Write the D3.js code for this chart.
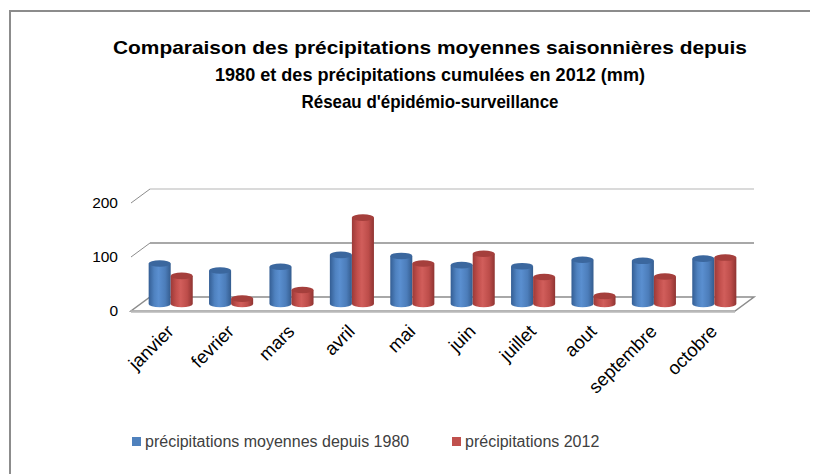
<!DOCTYPE html>
<html>
<head>
<meta charset="utf-8">
<script src="https://cdn.jsdelivr.net/npm/d3@7"></script>
<style>
  body { margin: 0; background: #fff; }
  svg { display: block; }
  text { font-family: "Liberation Sans", Arial, sans-serif; }
</style>
</head>
<body>
<svg width="813" height="474"></svg>
<script>
var months = ["janvier", "fevrier", "mars", "avril", "mai", "juin", "juillet", "aout", "septembre", "octobre"];
var moyenne1980 = [75, 62, 69, 91, 89, 72, 70, 82, 80, 84];
var precip2012 = [52, 10, 26, 160, 75, 93, 50, 15, 51, 86];
var seriesNames = ["précipitations moyennes depuis 1980", "précipitations 2012"];
var yTicks = [0, 100, 200];
var titleLines = [
    "Comparaison des précipitations moyennes saisonnières depuis",
    "1980 et des précipitations cumulées en 2012 (mm)",
    "Réseau d'épidémio-surveillance"
];

var svg = d3.select("svg");

// 3d box: front floor edge and depth offset
var floorL = 131, floorR = 735, floorY = 311,
    depthX = 19, depthY = -14;

var x = d3.scaleBand().domain(months).range([floorL, floorR]);
var x1 = d3.scaleBand().domain([0, 1]).range([0, x.bandwidth()]).paddingOuter(0.37);
var y = d3.scaleLinear().domain([0, 200]).range([floorY, floorY - 108]);

var colors = [
    {top: "#3b679e", stops: ["#345e94", "#4f82c0", "#5a8fd0", "#4c7dba", "#345c8e"]},
    {top: "#a53f3c", stops: ["#9c3a38", "#c24f4c", "#d15e5b", "#bd4d4a", "#8f3432"]}
];

var defs = svg.append("defs");
colors.forEach(function (c, i) {
    var grad = defs.append("linearGradient")
        .attr("id", "cyl" + i)
        .attr("x1", 0).attr("x2", 1).attr("y1", 0).attr("y2", 0);
    [0, 0.25, 0.45, 0.75, 1].forEach(function (o, k) {
        grad.append("stop").attr("offset", o).attr("stop-color", c.stops[k]);
    });
});

// outer frame
svg.append("path")
    .attr("d", "M10,474 L10,11 L810,11")
    .attr("fill", "none")
    .attr("stroke", "#8c8c8c")
    .attr("stroke-width", 2);

// title, fitted to the widths of the original
var titleWidths = [634, 430, 257];
svg.append("g").selectAll("text")
    .data(titleLines)
    .enter().append("text")
    .attr("x", 430)
    .attr("y", (d, i) => 54 + i * 27)
    .attr("text-anchor", "middle")
    .attr("font-size", 19)
    .attr("font-weight", "bold")
    .attr("fill", "#000")
    .attr("textLength", (d, i) => titleWidths[i])
    .attr("lengthAdjust", "spacingAndGlyphs")
    .text(d => d);

// floor
var floor = svg.append("g");
floor.append("path")
    .attr("d", "M" + floorL + "," + floorY + " L" + floorR + "," + floorY +
        " L" + (floorR + depthX) + "," + (floorY + depthY) +
        " L" + (floorL + depthX) + "," + (floorY + depthY) + " Z")
    .attr("fill", "#fff")
    .attr("stroke", "#8c8c8c")
    .attr("stroke-width", 1.5);
floor.append("line")
    .attr("x1", floorL).attr("x2", floorR)
    .attr("y1", floorY + 0.5).attr("y2", floorY + 0.5)
    .attr("stroke", "#b8b8b8")
    .attr("stroke-width", 2.5);

// back wall gridlines
var grid = svg.append("g");
yTicks.filter(t => t > 0).forEach(function (t) {
    grid.append("line")
        .attr("x1", floorL + depthX).attr("x2", floorR + depthX)
        .attr("y1", y(t) + depthY).attr("y2", y(t) + depthY)
        .attr("stroke", t === 200 ? "#dadada" : "#a8a8a8")
        .attr("stroke-width", 2);
    grid.append("line")
        .attr("x1", floorL).attr("x2", floorL + depthX)
        .attr("y1", y(t)).attr("y2", y(t) + depthY)
        .attr("stroke", "#8c8c8c")
        .attr("stroke-width", 1);
});

// y labels
svg.append("g").selectAll("text")
    .data(yTicks)
    .enter().append("text")
    .attr("x", 118)
    .attr("y", d => y(d))
    .attr("dy", "0.35em")
    .attr("text-anchor", "end")
    .attr("font-size", 15.5)
    .attr("fill", "#000")
    .text(d => d);

// cylinders
var rows = months.map((m, i) => ({month: m, vals: [moyenne1980[i], precip2012[i]]}));
var bars = svg.append("g");
var ry = 3.3;
rows.forEach(function (r) {
    r.vals.forEach(function (v, s) {
        var rx = x1.bandwidth() / 2;
        var cx = x(r.month) + x1(s) + rx + depthX / 2;
        var base = y(0) + depthY / 2;
        var top = y(v) + depthY / 2;
        bars.append("path")
            .attr("d", "M" + (cx - rx) + "," + top + " L" + (cx - rx) + "," + base +
                " A" + rx + "," + ry + " 0 0 0 " + (cx + rx) + "," + base +
                " L" + (cx + rx) + "," + top + " Z")
            .attr("fill", "url(#cyl" + s + ")");
        bars.append("ellipse")
            .attr("cx", cx).attr("cy", top)
            .attr("rx", rx).attr("ry", ry)
            .attr("fill", colors[s].top);
    });
});

// category labels
svg.append("g").selectAll("text")
    .data(months)
    .enter().append("text")
    .attr("transform", d => "translate(" + (x(d) + x.bandwidth() / 2 + 9) + "," + (floorY + 17) + ") rotate(-45)")
    .attr("text-anchor", "end")
    .attr("dy", "0.35em")
    .attr("font-size", 18.5)
    .attr("fill", "#000")
    .text(d => d);

// legend
var legend = svg.append("g");
var legendX = [132, 452];
seriesNames.forEach(function (n, i) {
    legend.append("rect")
        .attr("x", legendX[i]).attr("y", 437)
        .attr("width", 9).attr("height", 9)
        .attr("fill", i === 0 ? "#4f81bd" : "#c0504d");
    legend.append("text")
        .attr("x", legendX[i] + 13).attr("y", 447)
        .attr("font-size", 16)
        .attr("fill", "#404040")
        .text(n);
});
</script>
</body>
</html>
